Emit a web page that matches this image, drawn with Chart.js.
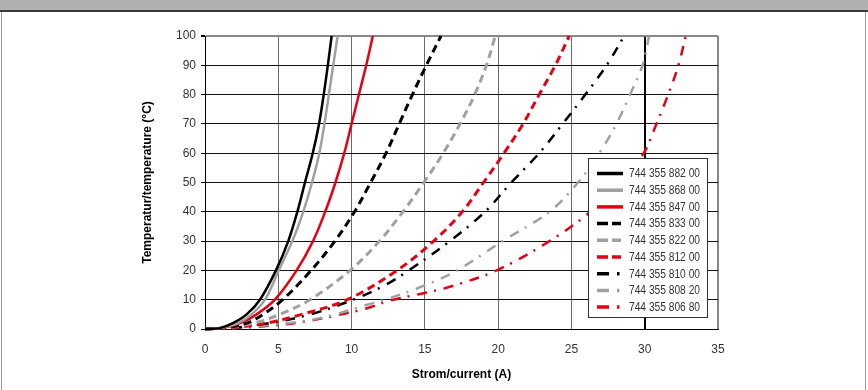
<!DOCTYPE html>
<html>
<head>
<meta charset="utf-8">
<script src="https://cdn.jsdelivr.net/npm/chart.js@4/dist/chart.umd.min.js"></script>
<style>
  html, body { margin: 0; padding: 0; background: #fff; }
  #wrap { position: relative; width: 868px; height: 390px; overflow: hidden; }
  #topband { position: absolute; left: 0; top: 0; width: 868px; height: 10px; background: #b0b0b0; border-bottom: 2px solid #3a3a3a; }
  #lborder { position: absolute; left: 1px; top: 12px; width: 1px; height: 378px; background: #9a9a9a; }
  #rborder { position: absolute; left: 865px; top: 12px; width: 1px; height: 378px; background: #9a9a9a; }
  canvas { position: absolute; left: 0; top: 0; }
</style>
</head>
<body>
<div id="wrap">
  <div id="topband"></div>
  <div id="lborder"></div>
  <div id="rborder"></div>
  <canvas id="c" width="868" height="390"></canvas>
</div>
<script>
// ---- data (current in A, temperature in °C) ----
const labels = ["744 355 882 00","744 355 868 00","744 355 847 00","744 355 833 00","744 355 822 00","744 355 812 00","744 355 810 00","744 355 808 20","744 355 806 80"];

const cur88200 = [0, 1.0, 1.9, 2.84, 3.75, 4.84, 5.68, 6.3, 6.82, 7.35, 7.78, 8.1, 8.38, 8.64];
const tmp88200 = [0, 0.3, 2, 5, 10, 20, 30, 40, 50, 60, 70, 80, 90, 100];

const cur86800 = [0, 1.0, 2.25, 3.18, 4.09, 5.03, 5.96, 6.7, 7.3, 7.8, 8.15, 8.45, 8.75, 9.05];
const tmp86800 = [0, 0.3, 2, 5, 10, 20, 30, 40, 50, 60, 70, 80, 90, 100];

const cur84700 = [0, 1.2, 2.4, 3.52, 4.77, 6.25, 7.37, 8.2, 8.9, 9.5, 10.0, 10.5, 11.0, 11.45];
const tmp84700 = [0, 0.3, 2, 5, 10, 20, 30, 40, 50, 60, 70, 80, 90, 100];

const cur83300 = [0, 1.5, 2.84, 3.97, 5.3, 7.24, 8.86, 10.2, 11.3, 12.35, 13.25, 14.15, 15.1, 16.1];
const tmp83300 = [0, 0.5, 2, 5, 10, 20, 30, 40, 50, 60, 70, 80, 90, 100];

const cur82200 = [0, 1.5, 3.3, 5.1, 7.16, 9.9, 11.9, 13.5, 14.93, 16.25, 17.4, 18.4, 19.2, 19.8];
const tmp82200 = [0, 0.4, 2, 5, 10, 20, 30, 40, 50, 60, 70, 80, 90, 100];

const cur81200 = [0, 2.0, 4.2, 6.6, 9.7, 13.1, 15.6, 17.55, 19.0, 20.4, 21.7, 22.8, 23.9, 24.85];
const tmp81200 = [0, 0.5, 2, 5, 10, 20, 30, 40, 50, 60, 70, 80, 90, 100];

const cur81000 = [0, 2.0, 4.4, 7.2, 10.1, 12.3, 13.9, 16.7, 19.1, 20.9, 22.8, 24.4, 25.95, 27.4, 28.6];
const tmp81000 = [0, 0.4, 2, 5, 10, 15, 20, 30, 40, 50, 60, 70, 80, 90, 100];

const cur80820 = [0, 2.0, 6.5, 8.75, 11.0, 12.3, 14.9, 17.2, 20.3, 23.5, 25.45, 26.9, 28.07, 29.0, 29.85, 30.3];
const tmp80820 = [0, 0.3, 2.5, 4.8, 8.2, 10, 14.7, 20, 30, 40, 50, 60, 70, 80, 90, 100];

const cur80680 = [0, 2.0, 4.2, 6.5, 8.75, 11.0, 12.6, 14.9, 16.7, 19.9, 23.5, 26.3, 28.3, 29.93, 30.8, 31.6, 32.3, 32.8];
const tmp80680 = [0, 0.3, 1.0, 2.3, 4.4, 7.0, 9.7, 12.2, 14.4, 20, 30, 40, 50, 60, 70, 80, 90, 100];

const xTickStep = 5, xMin = 0, xMax = 35;
const yTickStep = 10, yMin = 0, yMax = 100;

// ---- styles ----
const BLACK = '#000000', GRAY = '#a0a0a0', RED = '#e60012';
const SOLID = [], DASH = [8, 5], DASHDOT = [10, 7, 2, 8];

function pts(cs, ts) { return cs.map((c, i) => ({ x: c, y: ts[i] })); }

const seriesData = [
  [cur88200, tmp88200, BLACK, SOLID, 2.5],
  [cur86800, tmp86800, GRAY, SOLID, 2.5],
  [cur84700, tmp84700, RED, SOLID, 2.5],
  [cur83300, tmp83300, BLACK, DASH, 3],
  [cur82200, tmp82200, GRAY, DASH, 3],
  [cur81200, tmp81200, RED, DASH, 3],
  [cur81000, tmp81000, BLACK, DASHDOT, 2.5],
  [cur80820, tmp80820, GRAY, DASHDOT, 2.5],
  [cur80680, tmp80680, RED, DASHDOT, 2.5]
];

const datasets = seriesData.map((s, i) => ({
  label: labels[i],
  data: pts(s[0], s[1]),
  borderColor: s[2],
  backgroundColor: s[2],
  borderDash: s[3],
  borderWidth: s[4],
  pointRadius: 0,
  fill: false,
  tension: 0.35,
  clip: 2
}));

const FONT = "'Liberation Sans', Arial, sans-serif";

const boxLegend = {
  id: 'boxLegend',
  afterDatasetsDraw(chart) {
    const ctx = chart.ctx;
    const x0 = 588.5, y0 = 158.5, w = 119, h = 159;
    ctx.save();
    ctx.fillStyle = '#fff';
    ctx.fillRect(x0, y0, w, h);
    ctx.strokeStyle = '#333';
    ctx.lineWidth = 1;
    ctx.setLineDash([]);
    ctx.strokeRect(x0, y0, w, h);
    chart.data.datasets.forEach((ds, i) => {
      const y = 173.5 + i * 16.7;
      ctx.strokeStyle = ds.borderColor;
      ctx.lineWidth = 3.5;
      ctx.lineCap = 'butt';
      const d = ds.borderDash;
      if (d.length === 0) {
        ctx.beginPath(); ctx.moveTo(597, y); ctx.lineTo(623, y); ctx.stroke();
      } else if (d.length === 2) {
        ctx.beginPath(); ctx.moveTo(597, y); ctx.lineTo(608, y); ctx.moveTo(612, y); ctx.lineTo(621, y); ctx.stroke();
      } else {
        ctx.beginPath(); ctx.moveTo(597, y); ctx.lineTo(609, y); ctx.moveTo(617, y); ctx.lineTo(619.5, y); ctx.stroke();
      }
      ctx.fillStyle = '#333';
      ctx.font = "12px " + FONT;
      ctx.textBaseline = 'middle';
      ctx.textAlign = 'left';
      ctx.fillText(ds.label, 629, y + 0.5, 71);
    });
    ctx.restore();
  }
};

new Chart(document.getElementById('c'), {
  type: 'line',
  data: { datasets },
  plugins: [boxLegend],
  options: {
    responsive: false,
    animation: false,
    events: [],
    layout: { padding: { left: 140, right: 150, top: 36, bottom: 8 } },
    plugins: { legend: { display: false }, tooltip: { enabled: false } },
    scales: {
      x: {
        type: 'linear', min: xMin, max: xMax,
        afterFit(s) { s.height = 53; },
        ticks: { stepSize: xTickStep, color: '#333', font: { family: FONT, size: 12 }, padding: 13, maxRotation: 0 },
        grid: {
          drawTicks: false,
          color: (c) => c.tick.value === 30 ? '#000' : (c.tick.value === 35 ? '#888' : '#6a6a6a'),
          lineWidth: (c) => (c.tick.value === 30 || c.tick.value === 35) ? 2 : 1
        },
        border: { color: '#000', width: 1 },
        title: { display: true, text: 'Strom/current (A)', color: '#000', font: { family: FONT, size: 12, weight: 'bold' }, padding: { top: 11, bottom: 0 } }
      },
      y: {
        type: 'linear', min: yMin, max: yMax,
        afterFit(s) { s.width = 65; },
        ticks: { stepSize: yTickStep, color: '#333', font: { family: FONT, size: 12 }, padding: 5 },
        grid: {
          tickLength: 4,
          tickColor: '#000',
          color: (c) => c.tick.value === 100 ? '#888' : '#111',
          lineWidth: (c) => c.tick.value === 100 ? 2 : 1
        },
        border: { color: '#000', width: 1 },
        title: { display: true, text: 'Temperatur/temperature (°C)', color: '#000', font: { family: FONT, size: 12, weight: 'bold' }, padding: { top: 0, bottom: 4 } }
      }
    }
  }
});
</script>
</body>
</html>
